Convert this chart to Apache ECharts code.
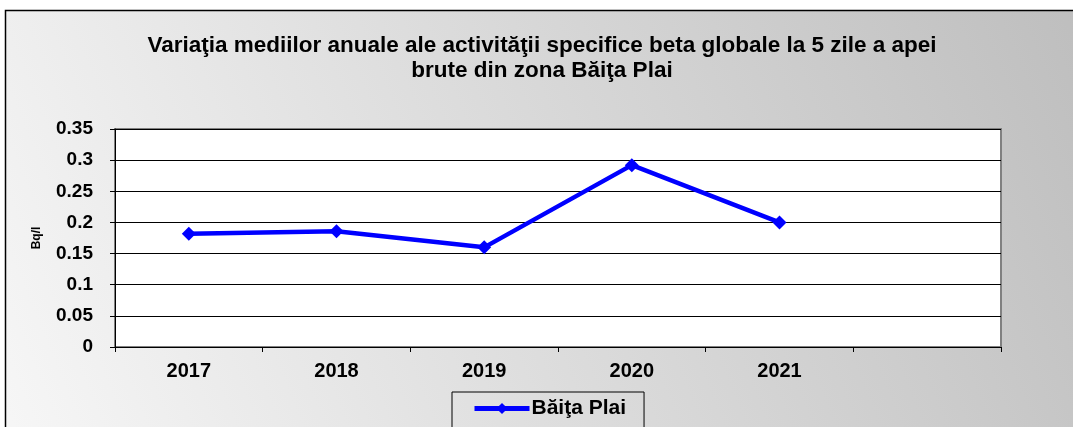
<!DOCTYPE html>
<html>
<head>
<meta charset="utf-8">
<script src="https://cdn.jsdelivr.net/npm/echarts@6/dist/echarts.min.js"></script>
<style>
  html, body { margin: 0; padding: 0; background: #fff; }
  #chart { width: 1073px; height: 427px; }
</style>
</head>
<body>
<div id="chart"></div>
<script>
const years = ['2017', '2018', '2019', '2020', '2021', ''];
const values = [0.182, 0.186, 0.160, 0.292, 0.200, null];
const seriesName = 'Băiţa Plai';
const titleText = 'Variaţia mediilor anuale ale activităţii specifice beta globale la 5 zile a apei\nbrute din zona Băiţa Plai';

// plot area box
const gx = 115, gy = 129, gw = 1073 - 115 - 72, gh = 427 - 129 - 80;

const chart = echarts.init(document.getElementById('chart'));
chart.setOption({
  animation: false,
  textStyle: { fontFamily: 'Liberation Sans, Arial, sans-serif' },
  graphic: [{
    type: 'rect',
    z: -10,
    shape: { x: 5.5, y: 10.5, width: 1100, height: 450 },
    style: {
      fill: new echarts.graphic.LinearGradient(0, 1, 1, 0, [
        { offset: 0, color: '#f7f7f7' },
        { offset: 1, color: '#bdbdbd' }
      ]),
      stroke: '#000',
      lineWidth: 1.5
    }
  }, {
    type: 'rect',
    z: -5,
    shape: { x: gx, y: gy, width: gw, height: gh },
    style: { fill: '#fff', stroke: '#808080', lineWidth: 2 }
  }],
  title: {
    text: titleText,
    left: 537,
    top: 28,
    textAlign: 'center',
    textStyle: { fontSize: 22.5, fontWeight: 'bold', color: '#000', lineHeight: 25 }
  },
  legend: {
    left: 452,
    top: 392,
    itemWidth: 55,
    itemHeight: 14,
    itemGap: 0,
    padding: [6, 18, 12, 20],
    borderColor: '#000',
    borderWidth: 1,
    backgroundColor: 'transparent',
    textStyle: { fontSize: 21, fontWeight: 'bold', color: '#000', padding: [0, 0, 0, -3] },
    data: [{ name: seriesName, lineStyle: { width: 5, color: '#0000ff' } }]
  },
  grid: { left: gx, right: 72, top: gy, bottom: 80 },
  xAxis: {
    type: 'category',
    data: years,
    boundaryGap: true,
    axisLine: { lineStyle: { color: '#000', width: 1 } },
    axisTick: { show: true, alignWithLabel: false, length: 5, lineStyle: { color: '#000' } },
    axisLabel: { fontSize: 20, fontWeight: 'bold', color: '#000', margin: 14 },
    splitLine: { show: false }
  },
  yAxis: {
    type: 'value',
    min: 0,
    max: 0.35,
    interval: 0.05,
    name: 'Bq/l',
    nameLocation: 'middle',
    nameGap: 72,
    nameRotate: 90,
    nameTextStyle: { fontSize: 12, fontWeight: 'bold', color: '#000' },
    axisLine: { show: true, lineStyle: { color: '#000' } },
    axisTick: { show: true, length: 5, lineStyle: { color: '#000' } },
    axisLabel: { fontSize: 19, fontWeight: 'bold', color: '#000', margin: 22 },
    splitLine: { lineStyle: { color: '#000', width: 1 } }
  },
  series: [{
    name: seriesName,
    type: 'line',
    data: values,
    symbol: 'diamond',
    symbolSize: 14,
    lineStyle: { color: '#0000ff', width: 4.5 },
    itemStyle: { color: '#0000ff' },
    connectNulls: false
  }]
});
</script>
</body>
</html>
